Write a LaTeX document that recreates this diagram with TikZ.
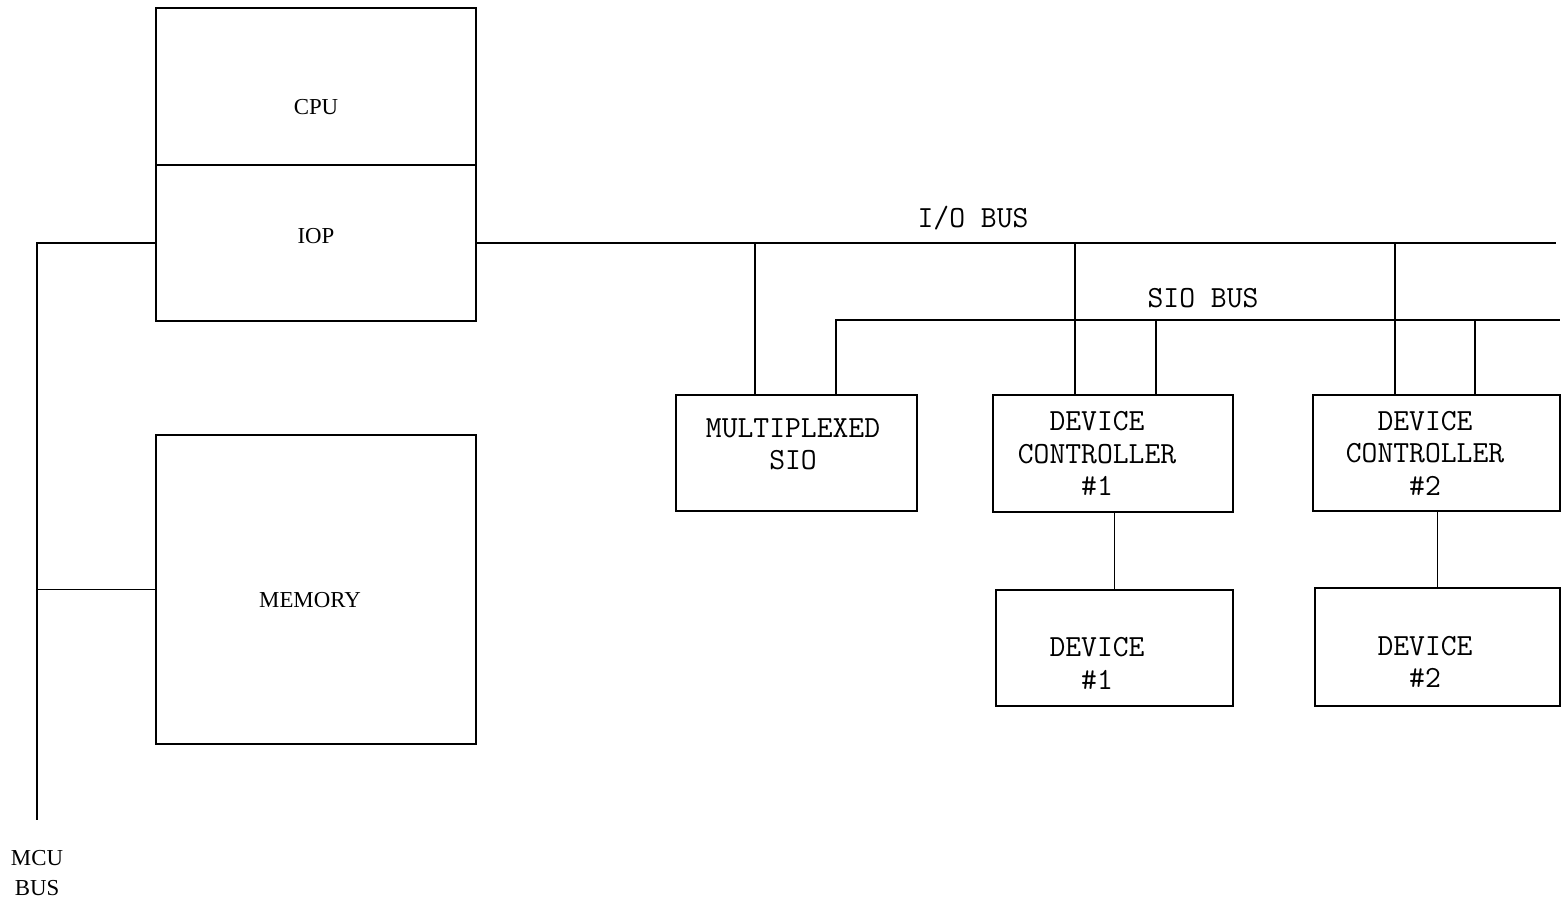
\documentclass[tikz,border=0pt]{standalone}
\usepackage{fontspec}
\setmainfont{Liberation Serif}
\usetikzlibrary{positioning}

\tikzset{
    unit/.style={draw, line width=1pt, inner sep=0pt},
    bus/.style={line width=1pt},
    rmtext/.style={font=\fontsize{13pt}{17pt}\selectfont, align=center, inner sep=0pt},
    tttext/.style={font=\ttfamily\fontsize{17.5pt}{18.5pt}\selectfont, align=center, inner sep=0pt},
}

\begin{document}
\begin{tikzpicture}[x=0.02cm, y=-0.02cm]
    \useasboundingbox (0,0) rectangle (1564,903);

    % Processor side
    \node[unit, minimum width=6.4cm, minimum height=3.14cm] (cpu) at (316,86.5) {};
    \node[unit, minimum width=6.4cm, minimum height=3.12cm] (iop) at (316,243) {};
    \node[unit, minimum width=6.4cm, minimum height=6.18cm] (mem) at (316,589.5) {};
    \node[rmtext] (cpulbl) at (316,107) {CPU};
    \node[rmtext] (ioplbl) at (316,236) {IOP};
    \node[rmtext] (memlbl) at (310,600) {MEMORY};

    % MCU bus
    \coordinate (mcutop) at (37,243);
    \coordinate (mcubot) at (37,820);
    \draw[bus] (iop.west) -- (mcutop) -- (mcubot);
    \draw[bus] (mem.west) -- (mem.west -| mcutop);
    \node[rmtext] (mculbl) at (37,873) {MCU\\BUS};

    % Units on the buses
    \node[unit, minimum width=4.82cm, minimum height=2.32cm] (mux) at (796.5,453) {};
    \node[unit, minimum width=4.8cm, minimum height=2.34cm] (dcA) at (1113,453.5) {};
    \node[unit, minimum width=4.94cm, minimum height=2.32cm] (dcB) at (1436.5,453) {};
    \node[unit, minimum width=4.74cm, minimum height=2.32cm] (devA) at (1114.5,648) {};
    \node[unit, minimum width=4.9cm, minimum height=2.36cm] (devB) at (1437.5,647) {};
    \node[tttext] (muxlbl) at (793,444.5) {MULTIPLEXED\\SIO};
    \node[tttext] (dcAlbl) at (1097,453.5) {DEVICE\\CONTROLLER\\\#1};
    \node[tttext] (dcBlbl) at (1425,453) {DEVICE\\CONTROLLER\\\#2};
    \node[tttext] (devAlbl) at (1097,663.5) {DEVICE\\\#1};
    \node[tttext] (devBlbl) at (1425,662) {DEVICE\\\#2};

    % I/O bus
    \coordinate (ioend) at (1556,243);
    \coordinate (iotapM) at (755,243);
    \coordinate (iotapA) at (1075,243);
    \coordinate (iotapB) at (1395,243);
    \draw[bus] (iop.east) -- (ioend);
    \draw[bus] (iotapM) -- (iotapM |- mux.north);
    \draw[bus] (iotapA) -- (iotapA |- dcA.north);
    \draw[bus] (iotapB) -- (iotapB |- dcB.north);
    \node[tttext] (iolbl) at (973,218) {I/O BUS};

    % SIO bus
    \coordinate (siostart) at (836,320);
    \coordinate (sioend) at (1560,320);
    \coordinate (siotapA) at (1156,320);
    \coordinate (siotapB) at (1475,320);
    \draw[bus] (siostart |- mux.north) -- (siostart) -- (sioend);
    \draw[bus] (siotapA) -- (siotapA |- dcA.north);
    \draw[bus] (siotapB) -- (siotapB |- dcB.north);
    \node[tttext] (siolbl) at (1203,298) {SIO BUS};

    % Controllers to devices
    \draw[bus] (devA.north) -- (devA.north |- dcA.south);
    \draw[bus] (devB.north) -- (devB.north |- dcB.south);
\end{tikzpicture}
\end{document}
